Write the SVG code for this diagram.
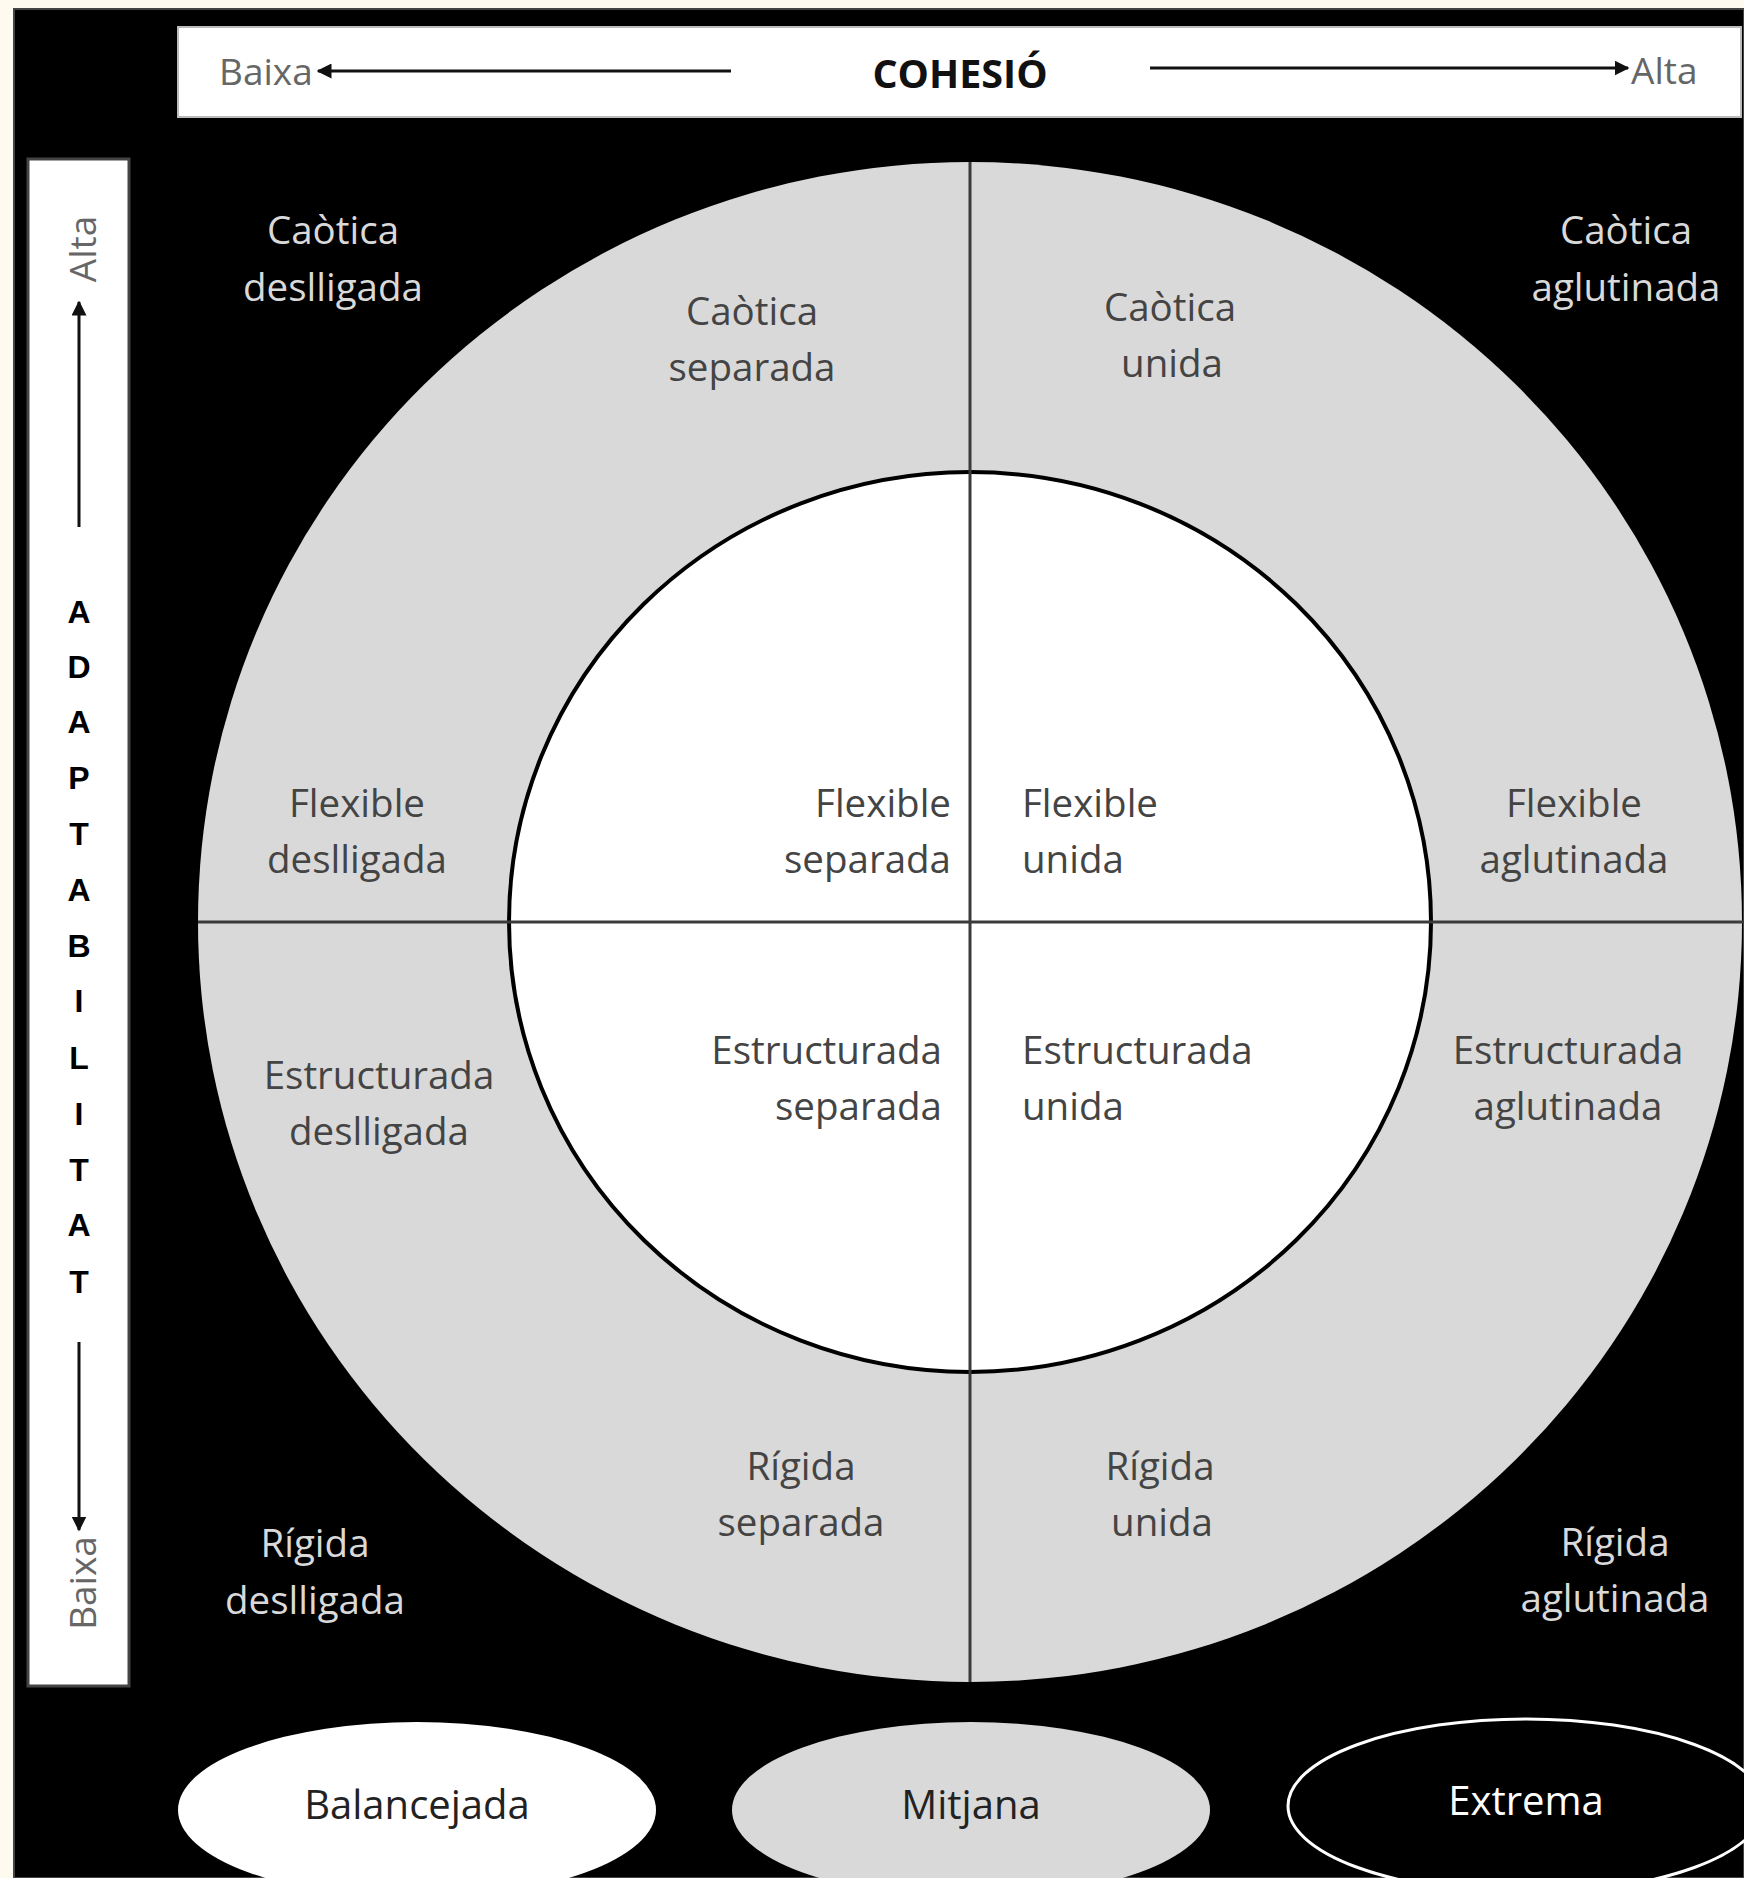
<svg xmlns="http://www.w3.org/2000/svg" width="1744" height="1878" viewBox="0 0 1744 1878">
<defs>
<style>
.t{font-family:"Open Sans","Liberation Sans",sans-serif;font-size:38.5px;fill:#444;text-anchor:middle}
.lg{font-family:"Open Sans","Liberation Sans",sans-serif;font-size:40px;fill:#222;text-anchor:middle}
.dk{fill:#d9d9d9}
.r{text-anchor:end}
.l{text-anchor:start}
.ax{font-family:"Open Sans","Liberation Sans",sans-serif;font-size:37px;fill:#666}
.v{font-family:"Liberation Sans",Arial,sans-serif;font-size:32px;font-weight:bold;fill:#000;text-anchor:middle}
.ln{stroke:#3a3a3a;stroke-width:3;fill:none}
.arr{stroke:#111;stroke-width:3;fill:none}
</style>
<marker id="ah" viewBox="0 0 10 10" refX="9" refY="5" markerWidth="5" markerHeight="5" orient="auto-start-reverse">
<path d="M0,0 L10,5 L0,10 z" fill="#111"/>
</marker>
</defs>
<rect x="0" y="0" width="1744" height="1878" fill="#fffaf0"/>
<rect x="14" y="9" width="1730" height="1869" fill="#000" stroke="#444" stroke-width="2"/>

<g id="cohesio-banner">
<rect x="178" y="27" width="1563" height="90" fill="#fff" stroke="#bbb" stroke-width="2"/>
<text class="ax" x="219" y="85">Baixa</text>
<text x="960" y="88" style="font-family:'Open Sans','Liberation Sans',sans-serif;font-size:39.5px;font-weight:bold;fill:#111;text-anchor:middle">COHESIÓ</text>
<text class="ax" x="1631" y="84">Alta</text>
</g>

<g id="adaptabilitat-banner">
<rect x="28" y="159" width="101" height="1527" fill="#fff" stroke="#444" stroke-width="3"/>
<text class="ax" transform="translate(96,249) rotate(-90)" text-anchor="middle">Alta</text>
<text class="ax" transform="translate(96,1583) rotate(-90)" text-anchor="middle">Baixa</text>
<text class="v" x="79" y="623">A</text>
<text class="v" x="79" y="678">D</text>
<text class="v" x="79" y="733">A</text>
<text class="v" x="79" y="789">P</text>
<text class="v" x="79" y="845">T</text>
<text class="v" x="79" y="901">A</text>
<text class="v" x="79" y="957">B</text>
<text class="v" x="79" y="1012">I</text>
<text class="v" x="79" y="1069">L</text>
<text class="v" x="79" y="1125">I</text>
<text class="v" x="79" y="1181">T</text>
<text class="v" x="79" y="1236">A</text>
<text class="v" x="79" y="1293">T</text>
</g>

<g id="circles">
<ellipse id="outer-ring" cx="970" cy="922" rx="772" ry="760" fill="#d9d9d9"/>
<ellipse id="inner-circle" cx="970" cy="922" rx="461" ry="450" fill="#fff" stroke="#000" stroke-width="4"/>
</g>

<g id="connectors">
<line class="arr" x1="731" y1="71" x2="318" y2="71" marker-end="url(#ah)"/>
<line class="arr" x1="1150" y1="68" x2="1628" y2="68" marker-end="url(#ah)"/>
<line class="arr" x1="79" y1="527" x2="79" y2="302" marker-end="url(#ah)"/>
<line class="arr" x1="79" y1="1342" x2="79" y2="1530" marker-end="url(#ah)"/>
<line class="ln" x1="970" y1="162" x2="970" y2="1682"/>
<line class="ln" x1="198" y1="922" x2="1744" y2="922"/>
</g>

<g id="n-caotica-deslligada"><text class="t dk" x="333" y="244">Caòtica</text><text class="t dk" x="333" y="301">deslligada</text></g>
<g id="n-caotica-separada"><text class="t" x="752" y="325">Caòtica</text><text class="t" x="752" y="381">separada</text></g>
<g id="n-caotica-unida"><text class="t" x="1170" y="321">Caòtica</text><text class="t" x="1172" y="377">unida</text></g>
<g id="n-caotica-aglutinada"><text class="t dk" x="1626" y="244">Caòtica</text><text class="t dk" x="1626" y="301">aglutinada</text></g>

<g id="n-flexible-deslligada"><text class="t" x="357" y="817">Flexible</text><text class="t" x="357" y="873">deslligada</text></g>
<g id="n-flexible-separada"><text class="t r" x="951" y="817">Flexible</text><text class="t r" x="951" y="873">separada</text></g>
<g id="n-flexible-unida"><text class="t l" x="1022" y="817">Flexible</text><text class="t l" x="1022" y="873">unida</text></g>
<g id="n-flexible-aglutinada"><text class="t" x="1574" y="817">Flexible</text><text class="t" x="1574" y="873">aglutinada</text></g>

<g id="n-estructurada-deslligada"><text class="t" x="379" y="1089">Estructurada</text><text class="t" x="379" y="1145">deslligada</text></g>
<g id="n-estructurada-separada"><text class="t r" x="942" y="1064">Estructurada</text><text class="t r" x="942" y="1120">separada</text></g>
<g id="n-estructurada-unida"><text class="t l" x="1022" y="1064">Estructurada</text><text class="t l" x="1022" y="1120">unida</text></g>
<g id="n-estructurada-aglutinada"><text class="t" x="1568" y="1064">Estructurada</text><text class="t" x="1568" y="1120">aglutinada</text></g>

<g id="n-rigida-separada"><text class="t" x="801" y="1480">Rígida</text><text class="t" x="801" y="1536">separada</text></g>
<g id="n-rigida-unida"><text class="t" x="1160" y="1480">Rígida</text><text class="t" x="1162" y="1536">unida</text></g>
<g id="n-rigida-deslligada"><text class="t dk" x="315" y="1557">Rígida</text><text class="t dk" x="315" y="1614">deslligada</text></g>
<g id="n-rigida-aglutinada"><text class="t dk" x="1615" y="1556">Rígida</text><text class="t dk" x="1615" y="1612">aglutinada</text></g>

<g id="legend-balancejada">
<ellipse cx="417" cy="1810" rx="239" ry="88" fill="#fff"/>
<text class="lg" x="417" y="1819">Balancejada</text>
</g>
<g id="legend-mitjana">
<ellipse cx="971" cy="1810" rx="239" ry="88" fill="#d9d9d9"/>
<text class="lg" x="971" y="1819">Mitjana</text>
</g>
<g id="legend-extrema">
<ellipse cx="1526" cy="1806" rx="238" ry="87" fill="#000" stroke="#fff" stroke-width="3"/>
<text class="lg" x="1526" y="1815" style="fill:#fff">Extrema</text>
</g>
</svg>
